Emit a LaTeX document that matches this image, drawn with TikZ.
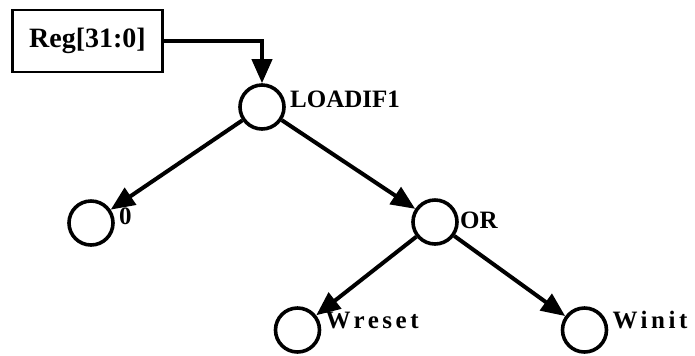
\documentclass[tikz,border=0pt]{standalone}
\usepackage{fontspec}
\setmainfont{Liberation Serif}
\usepackage{tikz}
\usetikzlibrary{calc,positioning,arrows.meta}

\begin{document}
\begin{tikzpicture}[x=0.5pt,y=-0.5pt,
  reg/.style={draw,line width=1.4pt,minimum width=75pt,minimum height=31pt,
              font=\fontsize{14}{16}\selectfont\bfseries},
  vtx/.style={circle,draw,line width=1.8pt,minimum size=22pt,inner sep=0pt},
  lbl/.style={anchor=west,inner sep=0pt,font=\fontsize{12.5}{14}\selectfont\bfseries},
  wide/.style={lbl,font=\fontsize{12.5}{14}\selectfont\bfseries\addfontfeature{LetterSpace=14}},
  a/.style={-{Triangle[length=12pt,width=10pt]},line width=2pt}]
  \useasboundingbox (0,0) rectangle (695,355);
  \node[reg] (r)  at (87.5,41) {Reg[31:0]};
  \node[vtx] (ld) at (262,107) {};
  \node[vtx] (z)  at (91,223)  {};
  \node[vtx] (o)  at (435,222) {};
  \node[vtx] (wr) at (297.5,330) {};
  \node[vtx] (wi) at (584.5,330) {};
  \node[lbl] (ldl) at ($(ld.east)+(4,-7.5)$) {LOADIF1};
  \node[lbl] (zl)  at ($(z.east)+(4,-6.5)$)  {0};
  \node[lbl] (ol)  at ($(o.east)+(1,-2)$)    {OR};
  \node[wide] (wrl) at ($(wr.east)+(4,-10)$) {Wreset};
  \node[wide] (wil) at ($(wi.east)+(4,-10)$) {Winit};
  \draw[a] (r.east) -| (ld.north);
  \draw[a] (ld)--(z); \draw[a] (ld)--(o);
  \draw[a] (o)--(wr); \draw[a] (o)--(wi);
\end{tikzpicture}
\end{document}
